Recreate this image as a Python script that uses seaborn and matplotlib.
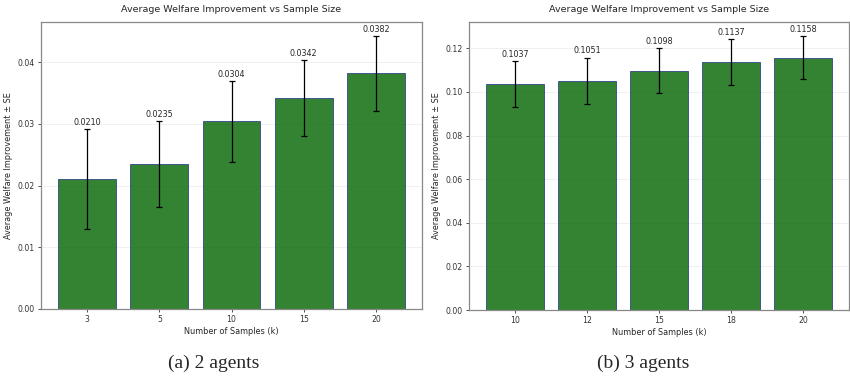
import matplotlib
matplotlib.use("Agg")
import matplotlib.pyplot as plt
import seaborn as sns
import numpy as np
import pandas as pd

# ---- data ----
samples_a = ["3", "5", "10", "15", "20"]
means_a = [0.0210, 0.0235, 0.0304, 0.0342, 0.0382]
se_a = [0.0081, 0.0070, 0.0066, 0.0062, 0.0061]

samples_b = ["10", "12", "15", "18", "20"]
means_b = [0.1037, 0.1051, 0.1098, 0.1137, 0.1158]
se_b = [0.0104, 0.0107, 0.0104, 0.0104, 0.0100]

title = "Average Welfare Improvement vs Sample Size"
xlabel = "Number of Samples (k)"
ylabel = "Average Welfare Improvement \u00b1 SE"
captions = ["(a) 2 agents", "(b) 3 agents"]

sns.set_style("white")
plt.rcParams["font.family"] = ["DejaVu Sans"]

W, H = 850, 379
fig = plt.figure(figsize=(W / 100, H / 100), dpi=100)

def px_axes(l, t, r, b):
    return fig.add_axes([l / W, 1 - b / H, (r - l) / W, (b - t) / H])

ax_a = px_axes(41, 22, 422, 309)
ax_b = px_axes(469, 22, 849, 310)

def draw(ax, cats, means, ses):
    df = pd.DataFrame({"k": cats, "v": means})
    sns.barplot(data=df, x="k", y="v", order=cats, ax=ax, color="darkgreen",
                saturation=1, alpha=0.8, edgecolor="#2a3a8c", linewidth=0.7,
                width=0.8, errorbar=None)
    xs = np.arange(len(cats))
    ax.errorbar(xs, means, yerr=ses, fmt="none", ecolor="black",
                elinewidth=0.9, capsize=2.2, capthick=0.9)
    for x, m, s in zip(xs, means, ses):
        ax.annotate(f"{m:.4f}", (x, m + s), xytext=(0, 1.5),
                    textcoords="offset points", ha="center", va="bottom",
                    fontsize=5.8)
    ax.set_xlim(-0.64, len(cats) - 1 + 0.64)
    top = max(m + s for m, s in zip(means, ses))
    ax.set_ylim(0, top * 1.05)
    ax.set_title(title, fontsize=6.8, pad=7)
    ax.set_xlabel(xlabel, fontsize=5.9, labelpad=2)
    ax.set_ylabel(ylabel, fontsize=5.9, labelpad=3)
    ax.tick_params(axis="both", labelsize=5.6, length=2.5, width=0.6,
                   colors="#333333", pad=2, bottom=True, left=True)
    ax.yaxis.grid(True, color="#dddddd", linewidth=0.5, alpha=0.6)
    ax.set_axisbelow(True)
    for sp in ax.spines.values():
        sp.set_color("#888888")
        sp.set_linewidth(0.9)

draw(ax_a, samples_a, means_a, se_a)
draw(ax_b, samples_b, means_b, se_b)

fig.text(214 / W, 1 - 363 / H, captions[0], ha="center", va="center",
         fontsize=14, family=["Liberation Serif", "DejaVu Serif"])
fig.text(643 / W, 1 - 363 / H, captions[1], ha="center", va="center",
         fontsize=14, family=["Liberation Serif", "DejaVu Serif"])

fig.savefig("out.png", dpi=100)
